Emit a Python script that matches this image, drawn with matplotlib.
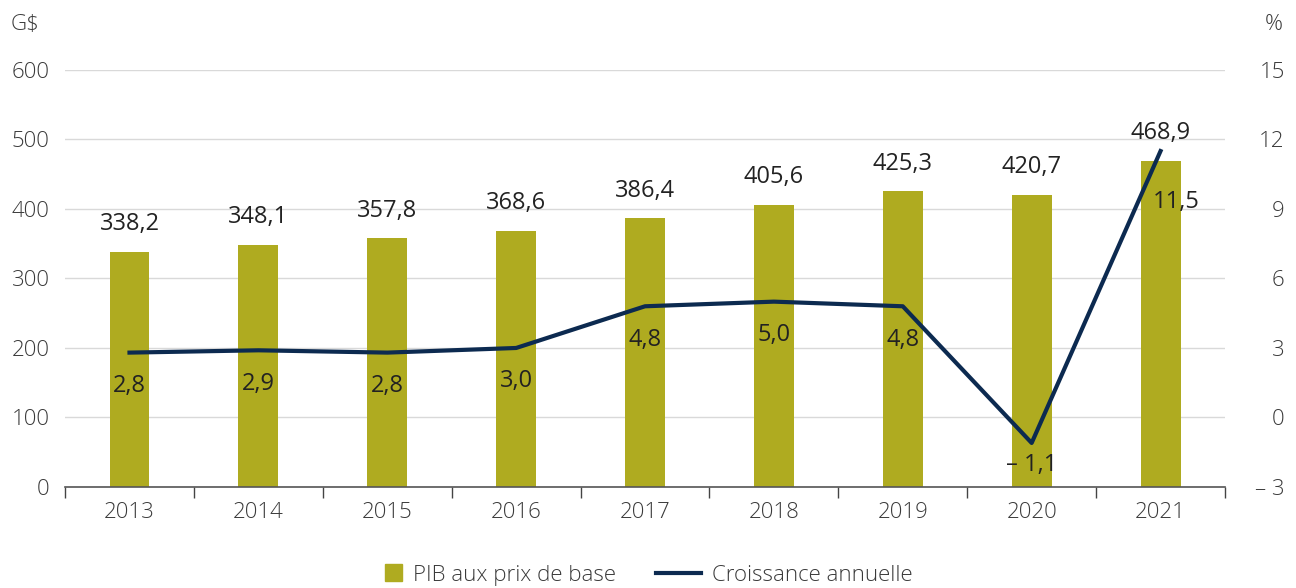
import matplotlib

matplotlib.use("Agg")
import matplotlib.pyplot as plt
from matplotlib.lines import Line2D
from matplotlib.patches import Rectangle
from matplotlib.legend_handler import HandlerPatch
import numpy as np

years = ["2013", "2014", "2015", "2016", "2017", "2018", "2019", "2020", "2021"]
pib = [338.2, 348.1, 357.8, 368.6, 386.4, 405.6, 425.3, 420.7, 468.9]
croissance = [2.8, 2.9, 2.8, 3.0, 4.8, 5.0, 4.8, -1.1, 11.5]

BAR_COLOR = "#afab20"
LINE_COLOR = "#0c2a50"
TEXT_COLOR = "#3a3a3a"
LABEL_COLOR = "#222222"
GRID_COLOR = "#d9d9d9"
TICK_SIZE = 16
LABEL_SIZE = 17


def fmt(v):
    s = f"{abs(v):.1f}".replace(".", ",")
    return f"\u2013 {s}" if v < 0 else s


def square_patch(legend, orig_handle, xdescent, ydescent, width, height, fontsize):
    s = 12.5
    return Rectangle((-xdescent + width - s, -ydescent + (height - s) / 2), s, s)


plt.rcParams["font.family"] = ["Open Sans", "DejaVu Sans"]
plt.rcParams["font.weight"] = "light"
plt.rcParams["font.size"] = TICK_SIZE

fig = plt.figure(figsize=(12.96, 5.88), dpi=100)
ax = fig.add_axes([0.0502, 0.1718, 0.8950, 0.7092])
ax2 = ax.twinx()

x = np.arange(len(years))
ax.bar(x, pib, width=0.31, color=BAR_COLOR, zorder=2)
ax.set_ylim(0, 600)
ax.set_xlim(-0.5, len(years) - 0.5)
ax.set_yticks(range(0, 601, 100))
ax.grid(axis="y", color=GRID_COLOR, linewidth=1, zorder=0)
ax.set_axisbelow(True)

ax.set_xticks(x)
ax.set_xticklabels(years)
ax.set_xticks(np.arange(-0.5, len(years), 1), minor=True)
ax.tick_params(axis="x", which="major", length=0, pad=11, colors=TEXT_COLOR, labelsize=TICK_SIZE)
ax.tick_params(axis="x", which="minor", length=8, width=1, color="#444444", direction="out")
ax.tick_params(axis="y", length=0, pad=11, colors=TEXT_COLOR, labelsize=TICK_SIZE)

for spine in ["top", "right", "left"]:
    ax.spines[spine].set_visible(False)
    ax2.spines[spine].set_visible(False)
ax.spines["bottom"].set_color("#555555")
ax.spines["bottom"].set_linewidth(1.2)
ax2.spines["bottom"].set_visible(False)

ax2.plot(x, croissance, color=LINE_COLOR, linewidth=3, zorder=3)
ax2.set_ylim(-3, 15)
ax2.set_yticks(range(-3, 16, 3))
ax2.set_yticklabels([f"\u2013 {abs(t)}" if t < 0 else str(t) for t in range(-3, 16, 3)])
ax2.tick_params(axis="y", length=0, pad=43, colors=TEXT_COLOR, labelsize=TICK_SIZE)
for lbl in ax2.get_yticklabels():
    lbl.set_horizontalalignment("right")

for xi, v in zip(x, pib):
    ax.annotate(fmt(v), (xi, v), xytext=(0, 20), textcoords="offset points",
                ha="center", va="center", fontsize=LABEL_SIZE, fontweight="normal",
                color=LABEL_COLOR)

for i, (xi, v) in enumerate(zip(x, croissance)):
    dx, dy = 0, -24
    if i == len(x) - 1:
        dx, dy = 11, -37
    elif v < 0:
        dy = -16
    ax2.annotate(fmt(v), (xi, v), xytext=(dx, dy), textcoords="offset points",
                 ha="center", va="center", fontsize=LABEL_SIZE, fontweight="normal",
                 color=LABEL_COLOR, zorder=4)

fig.text(0.008, 0.958, "G$", fontsize=TICK_SIZE, color=TEXT_COLOR, ha="left", va="center")
fig.text(0.99, 0.958, "%", fontsize=TICK_SIZE, color=TEXT_COLOR, ha="right", va="center")

handles = [
    Rectangle((0, 0), 1, 1, color=BAR_COLOR, label="PIB aux prix de base"),
    Line2D([], [], color=LINE_COLOR, linewidth=3, label="Croissance annuelle"),
]
fig.legend(handles=handles, loc="center", bbox_to_anchor=(0.49, 0.022), ncol=2,
           frameon=False, fontsize=TICK_SIZE, handlelength=2.0,
           columnspacing=1.8, handletextpad=0.5, labelcolor=TEXT_COLOR,
           handler_map={Rectangle: HandlerPatch(patch_func=square_patch)})

fig.savefig("out.png", dpi=100)
